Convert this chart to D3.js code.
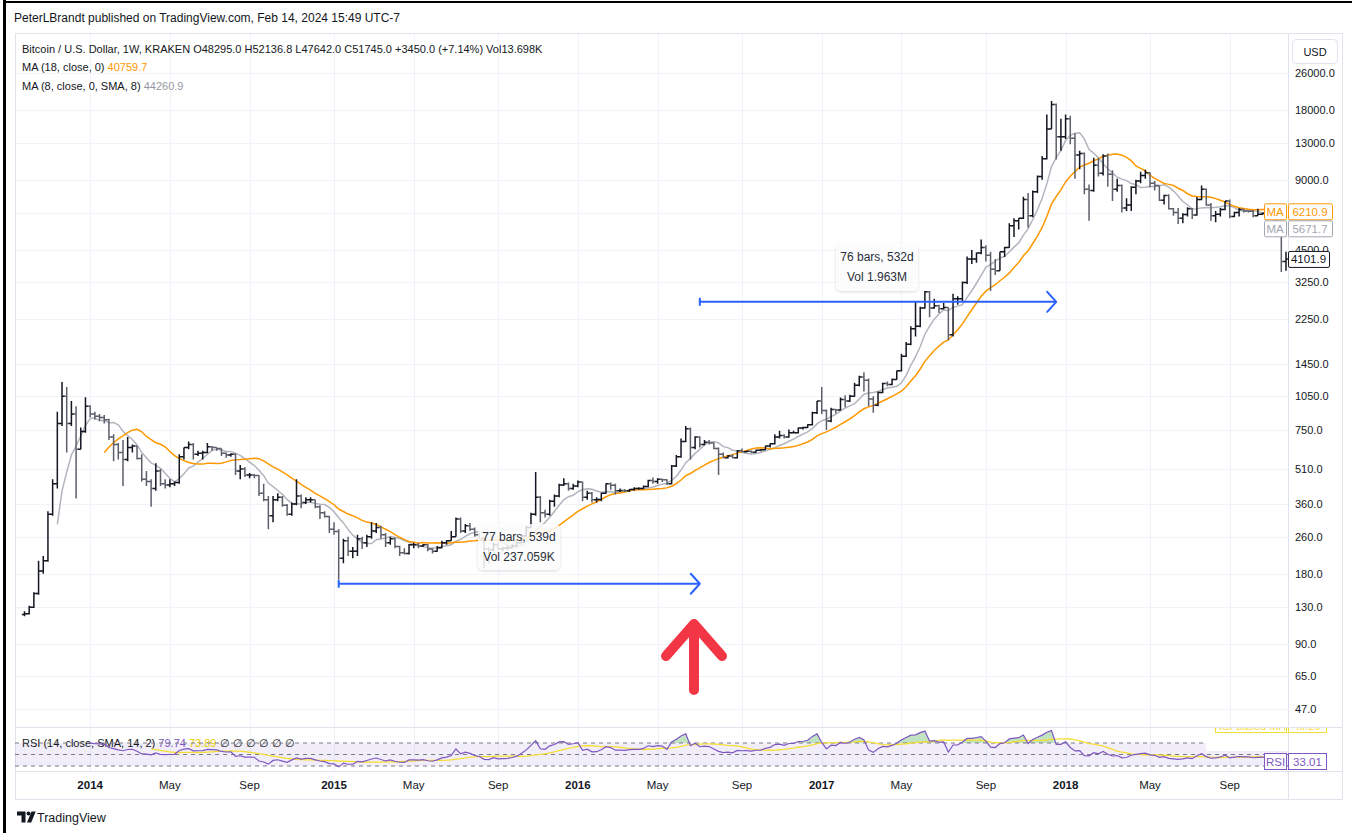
<!DOCTYPE html>
<html><head><meta charset="utf-8">
<script src="https://cdn.jsdelivr.net/npm/d3@7"></script>
<style>
body{margin:0;background:#fff;}
text{font-family:"Liberation Sans",Arial,sans-serif;}
</style>
</head><body><svg id="c" width="1352" height="833"></svg>
<script>
// ---------- DATA ----------
const firstWeek = [2013, 8, 30]; // first weekly bar (Mon 30 Sep 2013)
// weekly bars: [open, high, low, close]
const bars = [
[120,124,118,121],[121,131,120,129],[129,150,128,148],[148,205,146,185],[185,215,180,205],
[205,335,203,325],[325,460,320,440],[440,900,420,800],[800,1210,780,1050],[1050,1150,600,800],
[800,1000,780,880],[880,950,380,620],[620,770,620,740],[740,1040,730,950],[950,960,850,880],
[880,900,830,860],[860,880,820,850],[850,870,800,830],[830,840,680,700],[700,720,550,650],
[650,660,560,600],[600,680,430,560],[560,700,550,630],[630,650,600,640],[640,640,560,565],
[565,590,450,460],[460,500,430,450],[450,460,350,420],[420,540,410,500],[500,510,430,440],
[440,460,420,435],[435,460,425,440],[440,450,430,445],[445,590,440,575],[575,630,560,630],
[630,670,620,650],[650,660,560,590],[590,610,580,595],[595,610,560,600],[600,660,595,635],
[635,640,610,630],[630,630,610,625],[625,625,580,595],[595,600,570,585],[585,595,575,590],
[590,595,480,500],[500,530,460,510],[510,520,470,480],[480,490,465,480],[480,485,465,478],
[478,480,390,400],[400,440,370,375],[375,390,280,320],[320,390,300,375],[375,400,370,385],
[385,390,350,355],[355,360,320,325],[325,365,320,360],[360,460,355,390],[390,395,345,365],
[365,385,360,375],[375,385,365,375],[375,375,345,350],[350,355,310,330],[330,335,315,318],
[318,320,270,280],[280,300,265,274],[274,280,170,210],[210,255,200,250],[250,260,215,225],
[225,235,210,225],[225,265,215,255],[255,260,230,245],[245,265,235,260],[260,300,255,275],
[275,298,270,285],[285,290,255,265],[265,270,235,245],[245,260,240,255],[255,258,232,236],
[236,238,215,222],[222,232,218,220],[220,242,218,240],[240,245,232,240],[240,245,232,237],
[237,242,235,240],[240,242,225,230],[230,232,220,225],[225,237,224,233],[233,250,232,245],
[245,252,240,250],[250,275,250,260],[260,315,260,310],[310,315,270,275],[275,295,270,290],
[290,298,275,280],[280,285,260,265],[265,270,255,255],[255,260,190,230],[230,235,200,228],
[228,245,225,240],[240,245,228,230],[230,235,225,232],[232,238,228,233],[233,242,232,238],
[238,248,236,245],[245,265,244,262],[262,290,262,285],[285,330,285,325],[325,495,320,385],
[385,390,300,330],[330,340,315,325],[325,375,320,370],[370,395,350,390],[390,440,385,435],
[435,465,430,440],[440,445,410,420],[420,440,415,430],[430,455,425,448],[448,450,370,385],
[385,410,375,400],[400,405,365,375],[375,385,365,376],[376,402,370,400],[400,442,398,440],
[440,445,415,433],[433,440,395,410],[410,420,405,412],[412,418,405,410],[410,418,405,416],
[416,425,410,420],[420,425,415,420],[420,432,418,428],[428,458,425,455],[455,468,440,450],
[450,465,440,460],[460,462,448,458],[458,460,435,440],[440,530,438,525],[525,585,520,575],
[575,690,570,670],[670,780,665,760],[760,770,560,630],[630,705,620,700],[700,705,630,650],
[650,680,645,665],[665,680,650,660],[660,665,620,625],[625,630,480,590],[590,600,570,570],
[570,585,565,580],[580,590,565,570],[570,615,565,610],[610,625,600,605],[605,612,600,608],
[608,612,595,602],[602,618,600,614],[614,620,608,617],[617,642,615,640],[640,658,630,655],
[655,720,650,700],[700,745,690,710],[710,720,690,700],[700,755,695,730],[730,745,725,730],
[730,770,725,765],[765,775,755,770],[770,795,765,790],[790,900,785,890],[890,1000,880,1000],
[1000,1150,880,910],[910,920,750,820],[820,935,810,920],[920,925,885,915],[915,1035,910,1015],
[1015,1060,940,1000],[1000,1065,990,1050],[1050,1200,1045,1170],[1170,1285,1160,1270],[1270,1330,1100,1230],
[1230,1250,950,1020],[1020,1050,890,960],[960,1100,950,1090],[1090,1200,1080,1190],[1190,1215,1160,1180],
[1180,1250,1170,1240],[1240,1350,1235,1350],[1350,1600,1340,1560],[1560,1800,1550,1760],[1760,2100,1740,2050],
[2050,2700,1900,2100],[2100,2550,2080,2520],[2520,2980,2500,2960],[2960,2980,2300,2520],[2520,2760,2500,2580],
[2580,2600,2400,2500],[2500,2650,2480,2530],[2530,2540,1830,1930],[1930,2900,1900,2760],[2760,2830,2600,2760],
[2760,3280,2700,3250],[3250,4200,3200,4100],[4100,4480,3900,4100],[4100,4370,3950,4350],[4350,4980,4300,4600],
[4600,4700,4000,4250],[4250,4400,2980,3700],[3700,4100,3500,3650],[3650,4400,3650,4400],[4400,4620,4180,4600],
[4600,5850,4580,5700],[5700,6150,5100,6000],[6000,6150,5500,6150],[6150,7600,6100,7400],[7400,7900,5600,6300],
[6300,8100,6200,8000],[8000,9400,7900,9300],[9300,11400,9000,11100],[11100,17200,11000,14900],[14900,19700,14900,19000],
[19000,19200,11000,13800],[13800,16500,12000,13800],[13800,17200,13500,16500],[16500,17000,12800,13600],[13600,14300,9100,11500],
[11500,12000,10000,11700],[11700,11800,7800,8200],[8200,8600,6000,8100],[8100,11200,8000,10400],[10400,11200,9300,9600],
[9600,11600,9400,11400],[11400,11700,8400,9500],[9500,9900,7300,8200],[8200,9100,8000,8500],[8500,8600,6500,6800],
[6800,7500,6600,7000],[7000,8450,6600,8350],[8350,9000,7800,8900],[8900,9750,8700,9400],[9400,9950,9100,9650],
[9650,9700,8350,8700],[8700,8900,8100,8500],[8500,8500,7300,7350],[7350,7750,7050,7700],[7700,7800,6700,6750],
[6750,6800,6300,6500],[6500,6800,5800,6150],[6150,6450,5850,6380],[6380,6850,6250,6750],[6750,6800,6100,6350],
[6350,7580,6300,7400],[7400,8500,7350,8200],[8200,8250,6950,7000],[7000,7150,6000,6300],[6300,6600,5900,6400],
[6400,6800,6250,6700],[6700,7300,6650,7300],[7300,7400,6150,6250],[6250,6550,6200,6500],[6500,6800,6250,6700],
[6700,6750,6500,6600],[6600,6650,6500,6580],[6580,6650,6200,6300],[6300,6750,6300,6400],[6400,6500,6350,6450],
[6450,6500,6250,6450],[6450,6550,6350,6380],[6380,6480,5500,5600],[5600,5650,3600,4000],[4000,4400,3650,4102]
];
const priceTicks = [47,65,90,130,180,260,360,510,750,1050,1450,2250,3250,4500,6500,9000,13000,18000,26000];
const monthNames = ["Jan","Feb","Mar","Apr","May","Jun","Jul","Aug","Sep","Oct","Nov","Dec"];
const labelMonths = [0,4,8];
const maLengths = {orange:18, gray:8};
const rsiLength = 14;
const lastLabels = {maOrange:"6210.9", maGray:"5671.7", price:"4101.9", rsi:"33.01", rsiMa:"40.20"};
const headerValues = {o:"48295.0", h:"52136.8", l:"47642.0", c:"51745.0", chg:"+3450.0 (+7.14%)", vol:"13.698K", ma18:"40759.7", ma8:"44260.9", rsi:"79.74", rsiMa:"73.89"};
// measure tool annotations
const ranges = [
  {from:67, to:144, price:163, l1:"77 bars, 539d", l2:"Vol 237.059K", box:[478,524,82,46]},
  {from:144, to:220, price:2680, l1:"76 bars, 532d", l2:"Vol 1.963M", box:[836,244,82,47]}
];

// ---------- SETUP ----------
const svg = d3.select("#c");
const W = 1352, H = 833;
const pane = {l:15, r:1288, t:33, b:727};
const rsiPane = {t:727, b:771};
const frame = {l:15, r:1342, t:33, b:799};
const dates = bars.map((b,i)=> d3.timeDay.offset(new Date(firstWeek[0], firstWeek[1], firstWeek[2]), 7*i));
const closes = bars.map(b=>b[3]);

const x = d3.scaleTime().domain([dates[0], dates[dates.length-1]]).range([24.5, 1286]);
const y = d3.scaleLog().domain([47, 18000]).range([709, 110]);
const yR = d3.scaleLinear().domain([30, 70]).range([766, 743]);

svg.append("rect").attr("width",W).attr("height",H).attr("fill","#fff");

// outer black border
svg.append("rect").attr("x",3).attr("y",0).attr("width",3).attr("height",H).attr("fill","#000");
svg.append("rect").attr("x",3).attr("y",1).attr("width",W-3).attr("height",2).attr("fill","#000");

// title
svg.append("text").attr("x",14).attr("y",22).attr("font-size",12).attr("fill","#131722")
  .text("PeterLBrandt published on TradingView.com, Feb 14, 2024 15:49 UTC-7");

const defs = svg.append("defs");
defs.append("clipPath").attr("id","mainClip").append("rect")
  .attr("x",pane.l).attr("y",pane.t).attr("width",pane.r-pane.l).attr("height",pane.b-pane.t);
defs.append("clipPath").attr("id","rsiClip").append("rect")
  .attr("x",pane.l).attr("y",rsiPane.t+1).attr("width",pane.r-pane.l).attr("height",rsiPane.b-rsiPane.t-1);
defs.append("clipPath").attr("id","rsiClipAll").append("rect")
  .attr("x",pane.l).attr("y",rsiPane.t+1).attr("width",frame.r-pane.l).attr("height",rsiPane.b-rsiPane.t-1);
const sh = defs.append("filter").attr("id","shadow").attr("x","-20%").attr("y","-20%").attr("width","140%").attr("height","150%");
sh.append("feDropShadow").attr("dx",0).attr("dy",1).attr("stdDeviation",1.5).attr("flood-color","#000").attr("flood-opacity",0.18);

// ---------- GRID ----------
const grid = svg.append("g");
priceTicks.forEach(v=>{
  grid.append("line").attr("x1",pane.l).attr("x2",pane.r).attr("y1",Math.round(y(v))+0.5).attr("y2",Math.round(y(v))+0.5)
    .attr("stroke","#f0f3fa").attr("stroke-width",1);
});
const timeTicks = [];
for (let i=1;i<dates.length;i++){
  const m = dates[i].getMonth();
  if (m !== dates[i-1].getMonth() && labelMonths.includes(m)) timeTicks.push(dates[i]);
}
timeTicks.forEach(d=>{
  grid.append("line").attr("x1",Math.round(x(d))+0.5).attr("x2",Math.round(x(d))+0.5).attr("y1",pane.t).attr("y2",rsiPane.b)
    .attr("stroke","#f0f3fa").attr("stroke-width",1);
});

// ---------- FRAME ----------
const fr = svg.append("g").attr("stroke","#e0e3eb").attr("fill","none");
fr.append("rect").attr("x",frame.l+0.5).attr("y",frame.t+0.5).attr("width",frame.r-frame.l).attr("height",frame.b-frame.t);
fr.append("line").attr("x1",pane.r+0.5).attr("x2",pane.r+0.5).attr("y1",frame.t).attr("y2",frame.b);
fr.append("line").attr("x1",frame.l).attr("x2",frame.r).attr("y1",pane.b+0.5).attr("y2",pane.b+0.5);
fr.append("line").attr("x1",frame.l).attr("x2",frame.r).attr("y1",rsiPane.b+0.5).attr("y2",rsiPane.b+0.5);

// ---------- MAIN PANE ----------
const main = svg.append("g").attr("clip-path","url(#mainClip)");
function sma(arr, n){ return arr.map((v,i)=> i<n-1 ? null : d3.mean(arr.slice(i-n+1,i+1))); }
const maO = sma(closes, maLengths.orange);
const maG = sma(closes, maLengths.gray);
const lineGen = d3.line().defined(d=>d.v!=null).x(d=>x(d.d)).y(d=>y(d.v)).curve(d3.curveLinear);
main.append("path").attr("d", lineGen(maG.map((v,i)=>({d:dates[i],v}))))
  .attr("fill","none").attr("stroke","#b2b5be").attr("stroke-width",1.5);
main.append("path").attr("d", lineGen(maO.map((v,i)=>({d:dates[i],v}))))
  .attr("fill","none").attr("stroke","#ff9800").attr("stroke-width",1.5);

const barG = main.append("g");
bars.forEach((b,i)=>{
  const cx = x(dates[i]);
  const up = b[3] >= b[0];
  barG.append("path")
    .attr("d",`M${cx},${y(b[1])}V${y(b[2])}M${cx-2.6},${y(b[0])}H${cx}M${cx},${y(b[3])}H${cx+2.6}`)
    .attr("stroke", up ? "#131722" : "#5d606b").attr("stroke-width",1.5).attr("fill","none");
});

// ---------- ANNOTATIONS ----------
const ann = svg.append("g");
ranges.forEach(r=>{
  const x1 = x(dates[r.from]), x2 = x(dates[r.to]), yy = y(r.price);
  ann.append("line").attr("x1",x1).attr("x2",x2).attr("y1",yy).attr("y2",yy).attr("stroke","#2962ff").attr("stroke-width",2);
  ann.append("line").attr("x1",x1).attr("x2",x1).attr("y1",yy-4).attr("y2",yy+4).attr("stroke","#2962ff").attr("stroke-width",2);
  ann.append("path").attr("d",`M${x2-9},${yy-10}L${x2},${yy}L${x2-9},${yy+10}`).attr("fill","none")
    .attr("stroke","#2962ff").attr("stroke-width",2).attr("stroke-linecap","round").attr("stroke-linejoin","round");
  const [bx,by,bw,bh] = r.box;
  ann.append("rect").attr("x",bx).attr("y",by).attr("width",bw).attr("height",bh).attr("rx",5)
    .attr("fill","rgba(255,255,255,0.8)").attr("filter","url(#shadow)");
  ann.append("text").attr("x",bx+bw/2).attr("y",by+17).attr("text-anchor","middle").attr("font-size",12).attr("fill","#2a2e39").text(r.l1);
  ann.append("text").attr("x",bx+bw/2).attr("y",by+37).attr("text-anchor","middle").attr("font-size",12).attr("fill","#2a2e39").text(r.l2);
});
// red arrow
ann.append("path").attr("d","M694,690V626M666,656L694,624L722,656").attr("fill","none")
  .attr("stroke","#f23645").attr("stroke-width",10).attr("stroke-linecap","round").attr("stroke-linejoin","round");

// ---------- LEGEND ----------
const lg = svg.append("g").attr("font-size",11).attr("fill","#131722");
lg.append("text").attr("x",22).attr("y",53).attr("xml:space","preserve")
  .text(`Bitcoin / U.S. Dollar, 1W, KRAKEN O${headerValues.o} H${headerValues.h} L${headerValues.l} C${headerValues.c} ${headerValues.chg} Vol${headerValues.vol}`);
const l2 = lg.append("text").attr("x",22).attr("y",71);
l2.append("tspan").text("MA (18, close, 0) ");
l2.append("tspan").attr("fill","#ff9800").text(headerValues.ma18);
const l3 = lg.append("text").attr("x",22).attr("y",90);
l3.append("tspan").text("MA (8, close, 0, SMA, 8) ");
l3.append("tspan").attr("fill","#9598a1").text(headerValues.ma8);

// ---------- PRICE AXIS ----------
const ax = svg.append("g").attr("font-size",11).attr("fill","#131722");
priceTicks.forEach(v=>{
  ax.append("text").attr("x",1295).attr("y",y(v)+4).text(v.toFixed(1));
});
// USD button
svg.append("rect").attr("x",1292.5).attr("y",39.5).attr("width",45).attr("height",24).attr("rx",4)
  .attr("fill","#fff").attr("stroke","#e0e3eb");
svg.append("text").attr("x",1315).attr("y",56).attr("text-anchor","middle").attr("font-size",11).attr("fill","#131722").text("USD");

// last value labels
const yG = y(5671.7) + 2, yO = yG - 17;
function tag(xL, w, cy, txt, color, anchorMid){
  svg.append("rect").attr("x",xL+0.5).attr("y",cy-8+0.5).attr("width",w).attr("height",16).attr("rx",1.5)
    .attr("fill","#fff").attr("stroke",color);
  svg.append("text").attr("x",anchorMid? xL+w/2 : xL+5).attr("y",cy+4.5).attr("text-anchor",anchorMid?"middle":"start")
    .attr("font-size",11.5).attr("fill",color).text(txt);
}
tag(1264, 22, yO, "MA", "#ff9800", true);
tag(1288, 44, yO, lastLabels.maOrange, "#ff9800", true);
tag(1264, 22, yG, "MA", "#a3a6af", true);
tag(1288, 44, yG, lastLabels.maGray, "#a3a6af", true);
tag(1288, 41, y(4101.9), lastLabels.price, "#131722", true);

// ---------- RSI PANE ----------
function rsiCalc(c, n){
  const out = new Array(c.length).fill(null);
  let g=0, l=0;
  for (let i=1;i<=n;i++){ const d=c[i]-c[i-1]; if(d>0) g+=d; else l-=d; }
  g/=n; l/=n; out[n] = l===0?100:100-100/(1+g/l);
  for (let i=n+1;i<c.length;i++){ const d=c[i]-c[i-1];
    g=(g*(n-1)+Math.max(d,0))/n; l=(l*(n-1)+Math.max(-d,0))/n;
    out[i] = l===0?100:100-100/(1+g/l); }
  return out;
}
const rsiV = rsiCalc(closes, rsiLength);
const rsiMaV = rsiV.map((v,i)=> (i < rsiLength*2-1) ? null : d3.mean(rsiV.slice(i-rsiLength+1,i+1)));
const rg = svg.append("g").attr("clip-path","url(#rsiClip)");
rg.append("rect").attr("x",pane.l).attr("y",yR(70)).attr("width",pane.r-pane.l).attr("height",yR(30)-yR(70))
  .attr("fill","rgba(126,87,194,0.1)");
const rsiPts = rsiV.map((v,i)=>({d:dates[i],v}));
rg.append("path").attr("d", d3.area().defined(d=>d.v!=null).x(d=>x(d.d)).y0(yR(70)).y1(d=>yR(Math.max(d.v,70)))(rsiPts))
  .attr("fill","rgba(76,175,80,0.35)");
rg.append("path").attr("d", d3.area().defined(d=>d.v!=null).x(d=>x(d.d)).y0(yR(30)).y1(d=>yR(Math.min(d.v,30)))(rsiPts))
  .attr("fill","rgba(242,54,69,0.3)");
const rl = rg.append("text").attr("x",22).attr("y",747).attr("font-size",11).attr("fill","#131722");
rl.append("tspan").text("RSI (14, close, SMA, 14, 2) ");
rl.append("tspan").attr("fill","#7e57c2").text(headerValues.rsi+" ");
rl.append("tspan").attr("fill","#e8c900").text(headerValues.rsiMa+" ");
rl.append("tspan").attr("fill","#131722").text(" ∅ ∅ ∅ ∅ ∅ ∅");
[70,50,30].forEach(v=>{
  rg.append("line").attr("x1",pane.l).attr("x2",pane.r).attr("y1",yR(v)).attr("y2",yR(v))
    .attr("stroke","#787b86").attr("stroke-width",1).attr("stroke-dasharray","4,4");
});
// blank patch at the right end of the upper band (as in the reference)
rg.append("rect").attr("x",1206).attr("y",rsiPane.t+1).attr("width",pane.r-1206).attr("height",751-rsiPane.t-1).attr("fill","#fff");
const rLine = d3.line().defined(d=>d.v!=null).x(d=>x(d.d)).y(d=>yR(d.v));
rg.append("path").attr("d", rLine(rsiMaV.map((v,i)=>({d:dates[i],v})))).attr("fill","none").attr("stroke","#f5de33").attr("stroke-width",1.3);
rg.append("path").attr("d", rLine(rsiPts)).attr("fill","none").attr("stroke","#7e57c2").attr("stroke-width",1.2);
const rt = svg.append("g").attr("clip-path","url(#rsiClipAll)");
rt.append("rect").attr("x",1215.5).attr("y",719.5).attr("width",71).attr("height",13).attr("fill","#fff").attr("stroke","#f5de33");
rt.append("text").attr("x",1250).attr("y",730).attr("text-anchor","middle").attr("font-size",11).attr("fill","#f5de33").text("RSI-based MA");
rt.append("rect").attr("x",1288.5).attr("y",719.5).attr("width",38).attr("height",13).attr("fill","#fff").attr("stroke","#f5de33");
rt.append("text").attr("x",1307).attr("y",730).attr("text-anchor","middle").attr("font-size",11).attr("fill","#f5de33").text(lastLabels.rsiMa);
rt.append("rect").attr("x",1264.5).attr("y",753.5).attr("width",22).attr("height",16).attr("fill","#fff").attr("stroke","#7e57c2");
rt.append("text").attr("x",1275.5).attr("y",766).attr("text-anchor","middle").attr("font-size",11.5).attr("fill","#7e57c2").text("RSI");
rt.append("rect").attr("x",1288.5).attr("y",753.5).attr("width",38).attr("height",16).attr("fill","#fff").attr("stroke","#7e57c2");
rt.append("text").attr("x",1307.5).attr("y",766).attr("text-anchor","middle").attr("font-size",11.5).attr("fill","#7e57c2").text(lastLabels.rsi);

// ---------- TIME AXIS ----------
const ta = svg.append("g").attr("font-size",11.5).attr("fill","#131722").attr("text-anchor","middle");
timeTicks.forEach(d=>{
  const isYear = d.getMonth()===0;
  ta.append("text").attr("x",x(d)).attr("y",789).attr("font-weight",isYear?"bold":"normal")
    .text(isYear ? d.getFullYear() : monthNames[d.getMonth()]);
});

// ---------- TV LOGO ----------
const logo = svg.append("g").attr("fill","#131722");
logo.append("path").attr("d","M17,811.5h8.5v11h-4v-7h-4.5z");
logo.append("circle").attr("cx",28.5).attr("cy",813.6).attr("r",2);
logo.append("path").attr("d","M31.5,811.5h4.2l-4.5,11h-4.2z");
svg.append("text").attr("x",37).attr("y",821.5).attr("font-size",12.5).attr("fill","#131722").text("TradingView");
</script>
</body></html>
